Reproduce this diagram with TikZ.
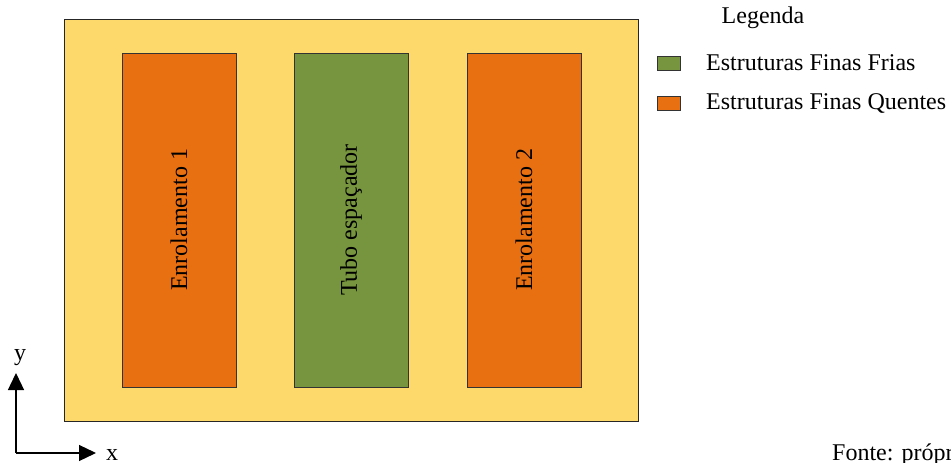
\documentclass[tikz,border=0pt]{standalone}
\usepackage{fontspec}
\setmainfont{Liberation Serif}
\usetikzlibrary{arrows.meta}
\definecolor{bgyellow}{HTML}{FDD86A}
\definecolor{hotorange}{HTML}{E97010}
\definecolor{coldgreen}{HTML}{77943E}
\begin{document}
\begin{tikzpicture}[x=1pt,y=-1pt,
  lbl/.style={font=\fontsize{24}{28}\selectfont, inner sep=0pt},
  region/.style={draw=black!85, line width=1pt},
  column/.style={draw=black!80, line width=1pt, minimum width=114pt, minimum height=334pt, inner sep=0pt},
  swatch/.style={draw=black!80, line width=0.8pt, minimum width=23pt, minimum height=14pt, inner sep=0pt},
  axis/.style={line width=1.3pt, -{Triangle[length=17pt,width=16pt]}}]
\useasboundingbox (0,0) rectangle (951,463);
\clip (0,0) rectangle (951,463);
\node[region, fill=bgyellow, minimum width=574pt, minimum height=402pt, inner sep=0pt] (outer) at (351,220) {};
\node[column, fill=hotorange] (enr1) at (179,220) {};
\node[column, fill=coldgreen] (tubo) at (351,220) {};
\node[column, fill=hotorange] (enr2) at (524,220) {};
\node[lbl, rotate=90] (t1) at (enr1.center) {Enrolamento 1};
\node[lbl, rotate=90] (t2) at (tubo.center) {Tubo espaçador};
\node[lbl, rotate=90] (t3) at (enr2.center) {Enrolamento 2};
\node[lbl] (leg) at (763,18) {Legenda};
\node[swatch, fill=coldgreen] (sw1) at (669,63.5) {};
\node[swatch, fill=hotorange] (sw2) at (669,103.5) {};
\node[lbl, anchor=west] (l1) at (706,63) {Estruturas Finas Frias};
\node[lbl, anchor=west] (l2) at (706,103) {Estruturas Finas Quentes};
\coordinate (o) at (16,453);
\coordinate (ytip) at (16,373);
\coordinate (xtip) at (96,453);
\draw[axis] (o) -- (ytip);
\draw[axis] (o) -- (xtip);
\node[lbl] (ylab) at (20,358) {y};
\node[lbl] (xlab) at (112,455) {x};
\node[lbl, anchor=west] (fonte) at (832,455) {Fonte: própria};
\end{tikzpicture}
\end{document}
